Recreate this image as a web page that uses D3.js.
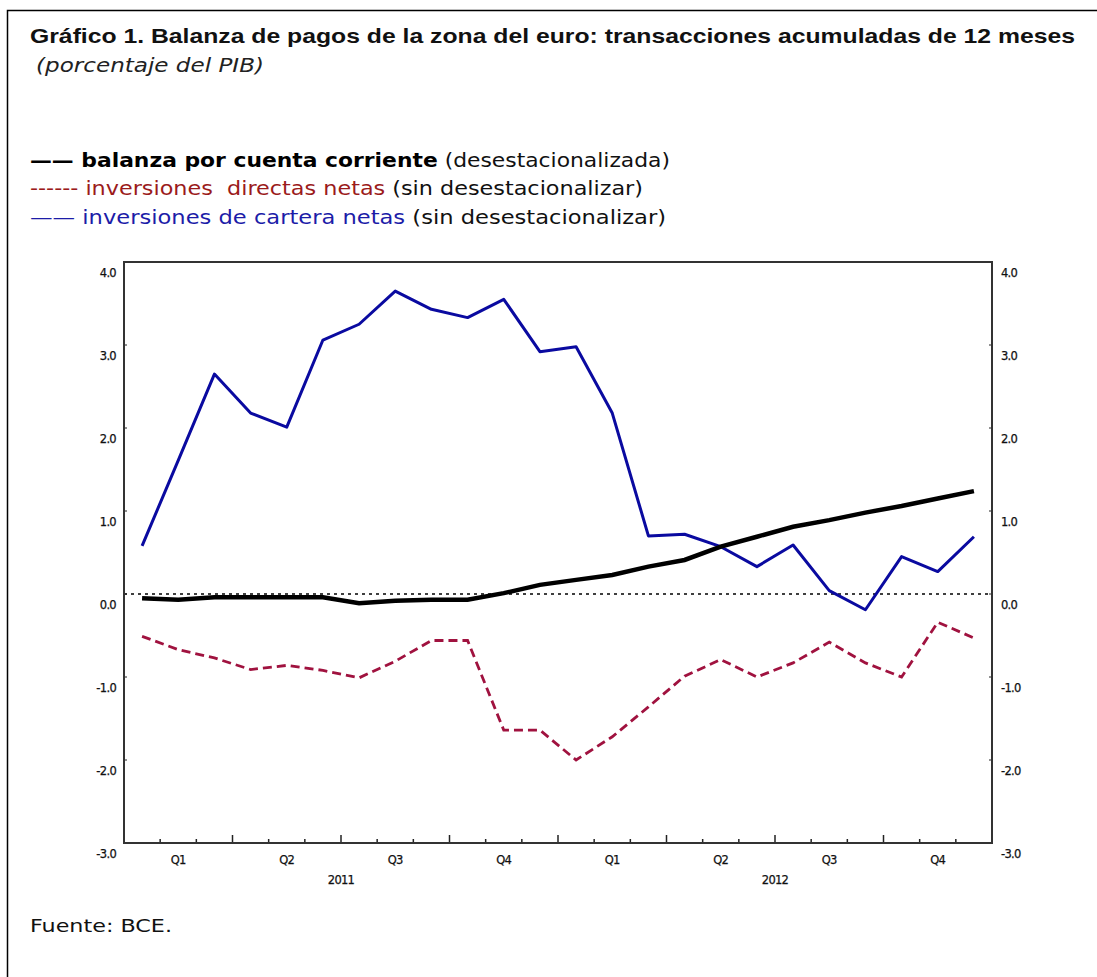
<!DOCTYPE html>
<html lang="es">
<head>
<meta charset="UTF-8">
<title>Gráfico 1. Balanza de pagos de la zona del euro</title>
<script src="https://d3js.org/d3.v7.min.js"></script>
<style>
  body { margin: 0; background: #fff; }
  svg { display: block; }
</style>
</head>
<body>
<div id="chart"></div>
<script>
// meses ene-2011 .. dic-2012
const months = d3.range(24);
const quarterLabels = ["Q1", "Q2", "Q3", "Q4", "Q1", "Q2", "Q3", "Q4"];
const yearLabels = ["2011", "2012"];
const yTicks = [-3, -2, -1, 0, 1, 2, 3, 4];

// balanza por cuenta corriente
const cuentaCorriente = [-0.05, -0.07, -0.04, -0.04, -0.04, -0.04, -0.11, -0.08, -0.07, -0.07, 0.01, 0.11,
                         0.17, 0.23, 0.33, 0.41, 0.57, 0.69, 0.81, 0.89, 0.98, 1.06, 1.15, 1.24];
// inversiones directas netas
const directas = [-0.51, -0.67, -0.77, -0.91, -0.86, -0.92, -1.01, -0.81, -0.56, -0.56, -1.64, -1.64,
                  -2.0, -1.72, -1.36, -0.99, -0.79, -1.0, -0.83, -0.58, -0.83, -1.0, -0.34, -0.53];
// inversiones de cartera netas
const cartera = [0.58, 1.61, 2.65, 2.18, 2.01, 3.06, 3.25, 3.65, 3.43, 3.33, 3.55, 2.92,
                 2.98, 2.18, 0.70, 0.72, 0.57, 0.33, 0.59, 0.04, -0.19, 0.45, 0.27, 0.69];

const W = 1097, H = 977;
const svg = d3.select("#chart").append("svg")
  .attr("width", W).attr("height", H);

// marco exterior
svg.append("path")
  .attr("d", `M7.5,${H}V10.5H${W}`)
  .attr("fill", "none").attr("stroke", "#000").attr("stroke-width", 1.5);

// título
svg.append("text")
  .attr("x", 30).attr("y", 43)
  .attr("font-family", "Liberation Sans, Arial, sans-serif")
  .attr("font-weight", "bold").attr("font-size", 21)
  .attr("fill", "#111")
  .attr("textLength", 1045).attr("lengthAdjust", "spacingAndGlyphs")
  .text("Gráfico 1. Balanza de pagos de la zona del euro: transacciones acumuladas de 12 meses");

svg.append("text")
  .attr("x", 36).attr("y", 72)
  .attr("font-family", "DejaVu Sans, sans-serif")
  .attr("font-style", "italic").attr("font-size", 19)
  .attr("fill", "#222")
  .attr("textLength", 228).attr("lengthAdjust", "spacingAndGlyphs")
  .text("(porcentaje del PIB)");

// leyenda
const legendFont = "DejaVu Sans, sans-serif";
const legendRows = [
  { y: 167, w: 640, parts: [
      { t: "—— balanza por cuenta corriente", c: "#000", b: true },
      { t: " (desestacionalizada)", c: "#111", b: false }] },
  { y: 195, w: 613, parts: [
      { t: "------ inversiones  directas netas", c: "#9b1b1b", b: false },
      { t: " (sin desestacionalizar)", c: "#111", b: false }] },
  { y: 224, w: 636, parts: [
      { t: "—— inversiones de cartera netas", c: "#1c1ca8", b: false },
      { t: " (sin desestacionalizar)", c: "#111", b: false }] }
];
legendRows.forEach(r => {
  const t = svg.append("text")
    .attr("x", 30).attr("y", r.y)
    .attr("font-family", legendFont).attr("font-size", 20)
    .style("white-space", "pre");
  r.parts.forEach(p => {
    t.append("tspan").attr("fill", p.c)
      .attr("font-weight", p.b ? "bold" : "normal")
      .text(p.t);
  });
  t.attr("textLength", r.w).attr("lengthAdjust", "spacingAndGlyphs");
});

// área del gráfico
const x = d3.scaleLinear().domain([0, 24]).range([124, 992]);
const y = d3.scaleLinear().domain([-3, 4]).range([843, 262]);

const tickFont = "DejaVu Sans, sans-serif";
const g = svg.append("g");

// línea de cero
g.append("line")
  .attr("x1", x(0)).attr("x2", x(24))
  .attr("y1", y(0)).attr("y2", y(0))
  .attr("stroke", "#000").attr("stroke-width", 1.3)
  .attr("stroke-dasharray", "3,4");

// marcas del eje x (mensuales, trimestrales más largas)
g.selectAll(".xt").data(d3.range(1, 24)).enter().append("line")
  .attr("x1", d => x(d)).attr("x2", d => x(d))
  .attr("y1", y(-3)).attr("y2", d => y(-3) - (d % 3 === 0 ? 8 : 4))
  .attr("stroke", "#222").attr("stroke-width", 1.5);

// marcas del eje y
yTicks.forEach(v => {
  g.append("line").attr("x1", x(0)).attr("x2", x(0) + 3)
    .attr("y1", y(v)).attr("y2", y(v)).attr("stroke", "#222");
  g.append("line").attr("x1", x(24)).attr("x2", x(24) - 3)
    .attr("y1", y(v)).attr("y2", y(v)).attr("stroke", "#222");
});

// etiquetas ejes
function tickText(sel) {
  sel.attr("font-family", tickFont).attr("font-size", 11.5)
    .attr("letter-spacing", -0.7).attr("fill", "#111")
    .attr("stroke", "#111").attr("stroke-width", 0.25);
}
g.selectAll(".yl").data(yTicks).enter().append("text")
  .attr("x", 116).attr("y", d => y(d) + 15)
  .attr("text-anchor", "end")
  .call(tickText)
  .text(d => d.toFixed(1));
g.selectAll(".yr").data(yTicks).enter().append("text")
  .attr("x", 1001).attr("y", d => y(d) + 15)
  .call(tickText)
  .text(d => d.toFixed(1));

g.selectAll(".ql").data(quarterLabels).enter().append("text")
  .attr("x", (d, i) => x(i * 3 + 1.5))
  .attr("y", 864)
  .attr("text-anchor", "middle")
  .call(tickText)
  .text(d => d);
g.selectAll(".yrl").data(yearLabels).enter().append("text")
  .attr("x", (d, i) => x(i * 12 + 6))
  .attr("y", 884)
  .attr("text-anchor", "middle")
  .call(tickText)
  .text(d => d);

// series
const line = d3.line().x((d, i) => x(i + 0.5)).y(d => y(d));

g.append("path").datum(directas)
  .attr("d", line).attr("fill", "none")
  .attr("stroke", "#a0123f").attr("stroke-width", 2.8)
  .attr("stroke-dasharray", "9,5");

g.append("path").datum(cartera)
  .attr("d", line).attr("fill", "none")
  .attr("stroke", "#0a0aa0").attr("stroke-width", 3)
  .attr("stroke-linejoin", "round");

g.append("path").datum(cuentaCorriente)
  .attr("d", line).attr("fill", "none")
  .attr("stroke", "#000").attr("stroke-width", 4.5);

// marco del gráfico
g.append("rect")
  .attr("x", x(0)).attr("y", y(4))
  .attr("width", x(24) - x(0)).attr("height", y(-3) - y(4))
  .attr("fill", "none").attr("stroke", "#333").attr("stroke-width", 2);

// fuente
svg.append("text")
  .attr("x", 30).attr("y", 932)
  .attr("font-family", "DejaVu Sans, sans-serif").attr("font-size", 18)
  .attr("fill", "#111")
  .attr("textLength", 142).attr("lengthAdjust", "spacingAndGlyphs")
  .text("Fuente: BCE.");
</script>
</body>
</html>
